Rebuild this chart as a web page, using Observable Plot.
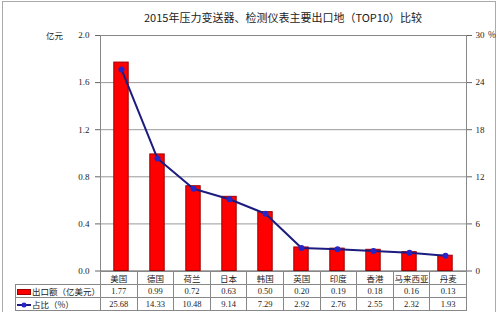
<!DOCTYPE html>
<html><head><meta charset="utf-8">
<script src="https://cdn.jsdelivr.net/npm/d3@7"></script>
<script src="https://cdn.jsdelivr.net/npm/@observablehq/plot@0.6"></script>
<style>
html,body{margin:0;padding:0;background:#fff;}
#wrap{position:relative;width:500px;height:312px;overflow:hidden;font-family:"Liberation Serif","Noto Sans CJK SC",serif;color:#222;}
#border{position:absolute;left:2px;top:1px;width:494px;height:312px;border:1px solid #aaa;box-sizing:border-box;}
#title{position:absolute;top:9px;left:100px;width:366px;text-align:center;font-size:11px;font-family:"Noto Sans CJK SC",sans-serif;white-space:nowrap;}
.unit{position:absolute;font-size:8.5px;font-family:"Noto Sans CJK SC",sans-serif;}
#chart{position:absolute;left:0;top:0;}
table{position:absolute;left:15px;top:271px;border-collapse:collapse;font-size:8.5px;table-layout:fixed;}
td{border:1px solid #888;text-align:center;padding:0;height:12px;line-height:11px;white-space:nowrap;overflow:hidden;font-family:"Liberation Serif","Noto Sans CJK SC",serif;}
td.cn{font-family:"Noto Sans CJK SC",sans-serif;}
td.blank{border:none;border-right:1px solid #888;}
td.lab{text-align:left;font-family:"Noto Sans CJK SC",sans-serif;padding-left:1px;}
</style></head>
<body>
<div id="wrap">
  <div id="border"></div>
  <div id="chart"></div>
  <div id="title"></div>
  <div class="unit" style="left:46px;top:29px;">亿元</div>
  <div class="unit" style="left:488px;top:28px;">%</div>
  <table id="tbl"></table>
</div>
<script>
const title = "2015年压力变送器、检测仪表主要出口地（TOP10）比较";
const countries = ["美国","德国","荷兰","日本","韩国","英国","印度","香港","马来西亚","丹麦"];
const exportValues = [1.77,0.99,0.72,0.63,0.50,0.20,0.19,0.18,0.16,0.13];
const sharePct = [25.68,14.33,10.48,9.14,7.29,2.92,2.76,2.55,2.32,1.93];
const leftTicks = [0,0.4,0.8,1.2,1.6,2.0];
const rightTicks = [0,6,12,18,24,30];
const seriesNames = ["出口额（亿美元）","占比（%）"];

document.getElementById("title").textContent = title;

const k = 2.0 / 30; // right axis % -> left axis units
const data = countries.map((c,i)=>({country:c, value:exportValues[i], pct:sharePct[i]}));

const W = 500, H = 285, ML = 100, MR = 34, MT = 35, MB = 14.5;
const step = (W - ML - MR) / countries.length;
const barW = 15;
const inset = (step - barW) / 2;

const chart = Plot.plot({
  width: W, height: H,
  marginLeft: ML, marginRight: MR, marginTop: MT, marginBottom: MB,
  style: {fontFamily: '"Liberation Serif","Noto Sans CJK SC",serif', fontSize: "9px", color: "#222", background: "transparent"},
  x: {domain: countries, padding: 0, axis: null},
  y: {domain: [0, 2.0]},
  marks: [
    Plot.gridY(leftTicks, {stroke: "#999", strokeOpacity: 1}),
    Plot.frame({stroke: "#888"}),
    Plot.axisY({ticks: leftTicks, tickFormat: d3.format(".1f"), tickSize: 5, tickPadding: 6, label: null, stroke: "#666"}),
    Plot.axisY({anchor: "right", ticks: rightTicks.map(v => v * k), tickFormat: d => String(Math.round(d / k)), tickSize: 5, tickPadding: 4, label: null, stroke: "#666"}),
    Plot.barY(data, {x: "country", y: "value", fill: "#ff0000", stroke: "#a00000", strokeWidth: 1, insetLeft: inset, insetRight: inset}),
    Plot.line(data, {x: "country", y: d => d.pct * k, stroke: "#1c1c80", strokeWidth: 2}),
    Plot.dot(data, {x: "country", y: d => d.pct * k, r: 3, fill: "#2525c8", stroke: "none"})
  ]
});
document.getElementById("chart").appendChild(chart);

// data table below the chart
const tbl = document.getElementById("tbl");
const cg = document.createElement("colgroup");
const c0 = document.createElement("col"); c0.style.width = (ML - 15) + "px"; cg.appendChild(c0);
countries.forEach(()=>{ const c = document.createElement("col"); c.style.width = step + "px"; cg.appendChild(c); });
tbl.appendChild(cg);
tbl.style.width = (ML - 15 + step * countries.length) + "px";

const r1 = tbl.insertRow();
const b = r1.insertCell(); b.className = "blank";
countries.forEach(c => { const td = r1.insertCell(); td.className = "cn"; td.textContent = c; });

const r2 = tbl.insertRow();
const l2 = r2.insertCell(); l2.className = "lab";
l2.innerHTML = '<svg width="14" height="8" style="vertical-align:-1px;margin-right:1px"><rect x="0.5" y="1.5" width="13" height="5" fill="#ff0000" stroke="#a00000"/></svg>';
l2.appendChild(document.createTextNode(seriesNames[0]));
exportValues.forEach(v => { const td = r2.insertCell(); td.textContent = v.toFixed(2); });

const r3 = tbl.insertRow();
const l3 = r3.insertCell(); l3.className = "lab";
l3.innerHTML = '<svg width="14" height="8" style="vertical-align:-1px;margin-right:1px"><line x1="0" x2="14" y1="4" y2="4" stroke="#1c1c80" stroke-width="2"/><circle cx="7" cy="4" r="2.5" fill="#2525c8"/></svg>';
l3.appendChild(document.createTextNode(seriesNames[1]));
sharePct.forEach(v => { const td = r3.insertCell(); td.textContent = v.toFixed(2); });
</script>
</body></html>
